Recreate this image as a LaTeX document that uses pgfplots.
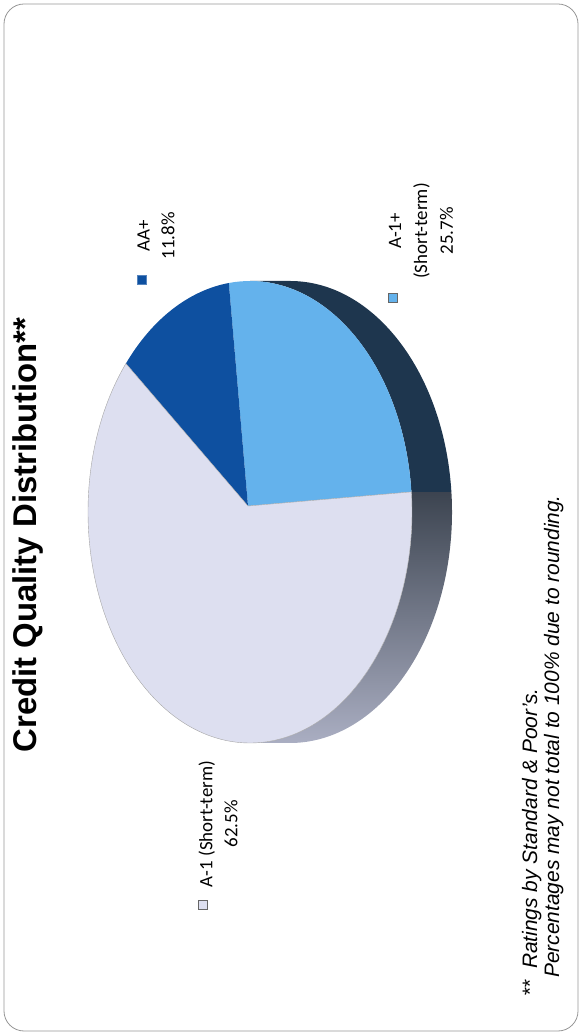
\documentclass[border=0pt]{standalone}
\usepackage{pgfplots}
\pgfplotsset{compat=1.18}
\usepackage{pgfplotstable}
\usepackage{fontspec}
\setmainfont{Liberation Sans}
\newfontfamily\carlito{Carlito}
\definecolor{aone}{RGB}{221,223,240}
\definecolor{aonep}{RGB}{100,178,236}
\definecolor{aap}{RGB}{14,80,160}
\definecolor{sidedark}{RGB}{30,54,78}
\definecolor{sidetop}{RGB}{60,68,80}
\definecolor{sidebot}{RGB}{170,174,194}
\definecolor{framec}{RGB}{150,150,150}

\pgfplotstableread{
name value
A1p 25.7
AAp 11.8
A1 62.5
}\piedata
\pgfplotstablegetelem{0}{value}\of\piedata\let\vA\pgfplotsretval
\pgfplotstablegetelem{1}{value}\of\piedata\let\vB\pgfplotsretval
\pgfplotstablegetelem{2}{value}\of\piedata\let\vC\pgfplotsretval
\def\cx{250}\def\cy{524}\def\rx{162}\def\ry{231}
\def\rxd{162bp}\def\ryd{231bp}\def\depd{40bp}
\def\px{248}\def\py{530}
\pgfmathsetmacro\aS{5}
\pgfmathsetmacro\aA{\aS+3.6*\vA}
\pgfmathsetmacro\aB{\aA+3.6*\vB}
\pgfmathsetmacro\aC{\aB+3.6*\vC}
\pgfmathsetmacro\xS{\cx+\rx*cos(\aS)}\pgfmathsetmacro\yS{\cy+\ry*sin(\aS)}
\pgfmathsetmacro\xA{\cx+\rx*cos(\aA)}\pgfmathsetmacro\yA{\cy+\ry*sin(\aA)}
\pgfmathsetmacro\xB{\cx+\rx*cos(\aB)}\pgfmathsetmacro\yB{\cy+\ry*sin(\aB)}

\begin{document}%
\begin{tikzpicture}
\begin{axis}[
  scale only axis, width=583bp, height=1036bp,
  xmin=0, xmax=583, ymin=0, ymax=1036,
  hide axis, clip=false]
% frame
\draw[framec, rounded corners=20bp, line width=0.8bp] (4,5) rectangle (578,1032);
% side faces
\path[top color=sidetop, bottom color=sidebot]
  (\xS,\yS) -- ++(\depd,0)
  arc[start angle=\aS, end angle=-90, x radius=\rxd, y radius=\ryd]
  -- ++(-40bp,0)
  arc[start angle=-90, end angle=\aS, x radius=\rxd, y radius=\ryd] -- cycle;
\fill[sidedark]
  (\xS,\yS) arc[start angle=\aS, end angle=90, x radius=\rxd, y radius=\ryd]
  -- ++(\depd,0)
  arc[start angle=90, end angle=\aS, x radius=\rxd, y radius=\ryd] -- cycle;
% top faces
\fill[aonep] (\px,\py) -- (\xS,\yS)
  arc[start angle=\aS, end angle=\aA, x radius=\rxd, y radius=\ryd] -- cycle;
\fill[aap] (\px,\py) -- (\xA,\yA)
  arc[start angle=\aA, end angle=\aB, x radius=\rxd, y radius=\ryd] -- cycle;
\filldraw[fill=aone, draw=gray!70, line width=0.4bp] (\px,\py) -- (\xB,\yB)
  arc[start angle=\aB, end angle=\aC, x radius=\rxd, y radius=\ryd] -- cycle;
% title
\node[rotate=90, anchor=base, inner sep=0pt, font=\bfseries\fontsize{33}{40}\selectfont] at (36,501) {Credit Quality Distribution**};
% labels
\node[rotate=90, align=center, font=\carlito\fontsize{19}{25}\selectfont] at (156,800) {AA+\\11.8\%};
\node[rotate=90, align=center, font=\carlito\fontsize{19}{26}\selectfont] at (421,805) {A-1+\\(Short-term)\\25.7\%};
\node[rotate=90, align=center, font=\carlito\fontsize{19}{25}\selectfont] at (218,212) {A-1 (Short-term)\\62.5\%};
% legend keys
\node[rectangle, fill=aap, draw=aap!70!white, line width=0.6bp, minimum size=9bp, inner sep=0pt] at (142,756) {};
\node[rectangle, fill=aonep, draw=gray!80!black, line width=0.6bp, minimum size=9bp, inner sep=0pt] at (393,738) {};
\node[rectangle, fill=aone, draw=gray!80!black, line width=0.6bp, minimum size=9bp, inner sep=0pt] at (203,131) {};
% footnote
\node[rotate=90, anchor=base west, font=\itshape\fontsize{21}{25}\selectfont, inner sep=0pt] at (537,39) {**\ \ Ratings by Standard \& Poor's.};
\node[rotate=90, anchor=base west, font=\itshape\fontsize{21}{25}\selectfont, inner sep=0pt] at (559,58) {Percentages may not total to 100\% due to rounding.};
\end{axis}
\pgfresetboundingbox
\useasboundingbox (current axis.south west) rectangle (current axis.north east);
\end{tikzpicture}%
\end{document}
